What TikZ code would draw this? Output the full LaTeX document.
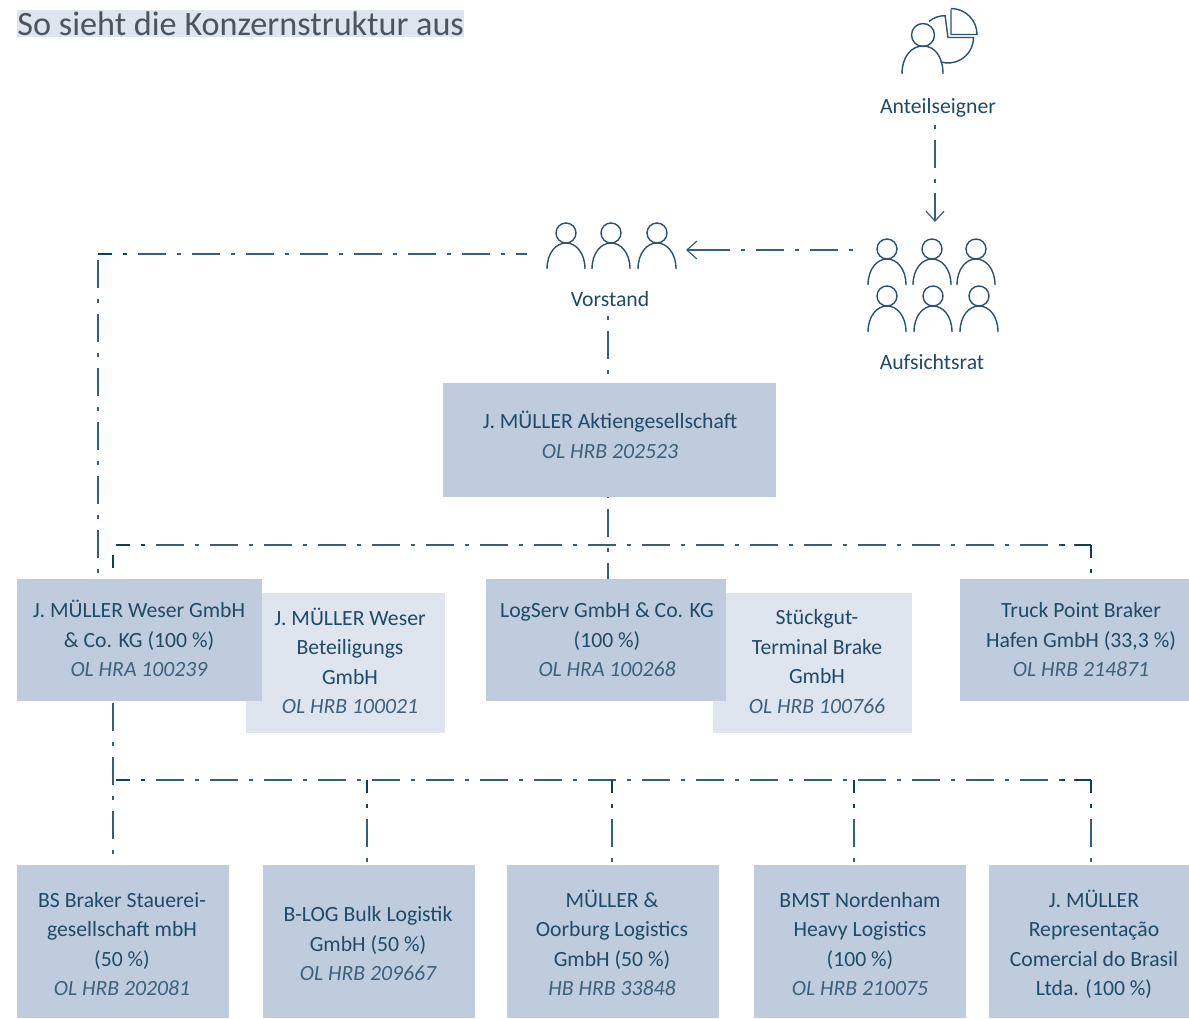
\documentclass[tikz,border=0pt]{standalone}
\usepackage{fontspec}
\setmainfont{Carlito}
\usetikzlibrary{arrows.meta}
\definecolor{boxdark}{HTML}{BFCCDE}
\definecolor{boxlight}{HTML}{DFE5EF}
\definecolor{ink}{HTML}{1F4A68}
\definecolor{inkit}{HTML}{3D607C}
\definecolor{iconc}{HTML}{2A5272}
\definecolor{linec}{HTML}{34607F}
\definecolor{strongc}{HTML}{0F3D5E}
\definecolor{titlec}{HTML}{4C555C}
\tikzset{
  x=1pt,y=-1pt,
  dbox/.style={fill=boxdark,draw=none,inner sep=0pt,outer sep=0pt},
  lbox/.style={fill=boxlight,draw=none,inner sep=0pt,outer sep=0pt},
  txt/.style={text=ink,align=center,inner sep=0pt,font=\fontsize{21.7}{29.5}\selectfont},
  lbl/.style={text=ink,inner sep=0pt,font=\fontsize{21.7}{24}\selectfont},
  conn/.style={draw=linec,line width=1.2pt,dash pattern=on 28pt off 11pt on 4pt off 11pt},
  solidconn/.style={draw=linec,line width=1.2pt},
  strong/.style={draw=strongc,line width=1.6pt},
  startdash/.style={strong,dash pattern=on 14pt off 11pt on 4pt off 1000pt},
  enddash/.style={strong,dash pattern=on 16pt off 10pt on 4pt off 1000pt},
  dropdash/.style={strong,dash pattern=on 13pt off 11pt on 4pt off 1000pt},
  tipped/.style={-{Straight Barb[length=10pt,width=18pt,line width=1.2pt]}},
  iconl/.style={draw=iconc,line width=1.4pt},
}
\newcommand{\reg}[1]{{\color{inkit}\itshape #1}}
\newcommand{\person}[2]{%
  \draw[iconl] (#1,#2) circle[radius=10pt];
  \draw[iconl] (#1-19,#2+36) .. controls (#1-19,#2+20) and (#1-10,#2+10) .. (#1,#2+10)
     .. controls (#1+10,#2+10) and (#1+19,#2+20) .. (#1+19,#2+36);}
\begin{document}
\begin{tikzpicture}
\useasboundingbox[fill=white] (0,0) rectangle (1189,1018);
% title
\node[fill=boxlight,anchor=north west,inner sep=0pt,minimum width=447pt,minimum height=27pt,text=titlec,font=\fontsize{34.2}{34}\selectfont] (title) at (17,10) {\raisebox{1pt}{So sieht die Konzernstruktur aus}};
% icon: shareholder
\draw[iconl] (923,35) circle[radius=11.5pt];
\draw[iconl] (902,74) .. controls (902,57) and (911,46) .. (923,46) .. controls (935,46) and (943,57) .. (943,74);
\draw[iconl] (929,21.5) arc[start angle=130,end angle=90,radius=25pt] -- (948,37.5) -- (973.5,37.5) arc[start angle=0,end angle=-107,radius=25.5pt];
\draw[iconl] (951,9.5) -- (951,34.5) -- (977,34.5) arc[start angle=0,end angle=90,radius=26pt];
\person{887}{249}\person{932}{249}\person{976}{249}
\person{887}{296}\person{933}{296}\person{979}{296}
\person{566}{233}\person{611}{233}\person{657}{233}
% labels
\node[lbl] (anteil) at (938,108) {Anteilseigner};
\node[lbl] (aufsicht) at (932,362) {Aufsichtsrat};
\node[lbl] (vorstand) at (610,299.5) {Vorstand};
% boxes
\node[lbox,anchor=north west,minimum width=199pt,minimum height=140pt] (betb) at (246,593) {};
\node[lbox,anchor=north west,minimum width=199pt,minimum height=140pt] (stub) at (713,593) {};
\node[dbox,anchor=north west,minimum width=333pt,minimum height=114pt] (ag) at (443,383) {};
\node[dbox,anchor=north west,minimum width=245pt,minimum height=122pt] (wes) at (17,579) {};
\node[dbox,anchor=north west,minimum width=240pt,minimum height=122pt] (log) at (486,579) {};
\node[dbox,anchor=north west,minimum width=229pt,minimum height=122pt] (tru) at (960,579) {};
\node[dbox,anchor=north west,minimum width=212pt,minimum height=153pt] (bs) at (17,865) {};
\node[dbox,anchor=north west,minimum width=212pt,minimum height=153pt] (blog) at (263,865) {};
\node[dbox,anchor=north west,minimum width=212pt,minimum height=153pt] (oor) at (507,865) {};
\node[dbox,anchor=north west,minimum width=212pt,minimum height=153pt] (bmst) at (754,865) {};
\node[dbox,anchor=north west,minimum width=200pt,minimum height=153pt] (rep) at (989,865) {};
% texts
\node[txt] (agt) at (610,435) {J. MÜLLER Aktiengesellschaft\\\reg{OL HRB 202523}};
\node[txt] (west) at (139,638.5) {J. MÜLLER Weser GmbH\\\&~Co. KG (100 \%)\\\reg{OL HRA 100239}};
\node[txt] (bett) at (350,661) {J. MÜLLER Weser\\Beteiligungs\\GmbH\\\reg{OL HRB 100021}};
\node[txt] (logt) at (607,640) {LogServ GmbH \&~Co. KG\\(100 \%)\\\reg{OL HRA 100268}};
\node[txt] (stut) at (817,661.5) {Stückgut-\\Terminal Brake\\GmbH\\\reg{OL HRB 100766}};
\node[txt] (trut) at (1081,640) {Truck Point Braker\\Hafen GmbH (33,3 \%)\\\reg{OL HRB 214871}};
\node[txt] (bst) at (122,944) {BS Braker Stauerei-\\gesellschaft mbH\\(50 \%)\\\reg{OL HRB 202081}};
\node[txt] (blogt) at (368,944) {B-LOG Bulk Logistik\\GmbH (50 \%)\\\reg{OL HRB 209667}};
\node[txt] (oort) at (612,943) {MÜLLER \&\\Oorburg Logistics\\GmbH (50 \%)\\\reg{HB HRB 33848}};
\node[txt] (bmstt) at (860,944) {BMST Nordenham\\Heavy Logistics\\(100 \%)\\\reg{OL HRB 210075}};
\node[txt] (rept) at (1094,944.5) {J. MÜLLER\\Representação\\Comercial do Brasil\\Ltda. (100 \%)};
% connector anchors
\coordinate (a1) at (935,125);
\coordinate (am) at (935,193);
\coordinate (a2) at (935,222);
\coordinate (r1) at (853,250);
\coordinate (rm) at (730,250);
\coordinate (r2) at (686,250);
\coordinate (v1) at (527,254);
\coordinate (vc) at (98,254);
\coordinate (v2) at (98,575);
\coordinate (vs) at (608,316);
\coordinate (va) at (608,376);
\coordinate (ab) at (608,497);
\coordinate (lt) at (608,579);
\coordinate (h1a) at (116,545);
\coordinate (h1b) at (1091,545);
\coordinate (h1c) at (1091,575);
\coordinate (h2a) at (116,780);
\coordinate (h2b) at (1091,780);
\coordinate (h2c) at (1091,862);
\coordinate (wd) at (113,703);
\coordinate (wdb) at (113,855);
\coordinate (s1) at (113,555);
\coordinate (s2) at (113,568);
\foreach \n/\px in {d1/367,d2/612,d3/854}{
  \coordinate (\n t) at (\px,780);
  \coordinate (\n b) at (\px,862);
}
% connectors
\draw[conn,dash phase=39pt] (a1) -- (am);
\draw[solidconn,tipped] (am) -- (a2);
\draw[conn,dash phase=39pt] (r1) -- (rm);
\draw[solidconn,tipped] (rm) -- (r2);
\draw[conn,dash phase=14pt] (vc) -- (v1);
\draw[conn,dash phase=48pt] (vc) -- (v2);
\draw[conn,dash phase=39pt] (vs) -- (va);
\draw[conn,dash phase=42pt] (ab) -- (lt);
\draw[conn,dash phase=14pt] (h1a) -- (h1b);
\draw[conn,dash phase=15pt] (h1b) -- (h1c);
\draw[conn,dash phase=14pt] (h2a) -- (h2b);
\draw[conn] (wd) -- (wdb);
\foreach \n in {d1,d2,d3}{\draw[conn,dash phase=15pt] (\n t) -- (\n b);}
\draw[conn,dash phase=15pt] (h2b) -- (h2c);
% darker stroke at the beginnings of the lines
\draw[startdash] (vc) -- (v1);
\draw[startdash] (h1a) -- (h1b);
\draw[startdash] (h2a) -- (h2b);
\draw[enddash] (h1b) -- (h1a);
\draw[enddash] (h2b) -- (h2a);
\draw[dropdash] (h1b) -- (h1c);
\draw[dropdash] (h2b) -- (h2c);
\foreach \n in {d1,d2,d3}{\draw[dropdash] (\n t) -- (\n b);}
\draw[strong] (s1) -- (s2);
\end{tikzpicture}
\end{document}
